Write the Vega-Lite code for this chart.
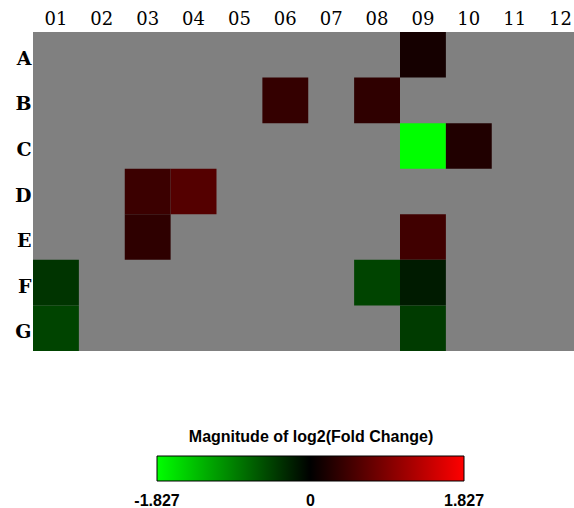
{
  "$schema": "https://vega.github.io/schema/vega-lite/v6.json",
  "autosize": {"type": "none"},
  "padding": {"left": 33, "top": 32, "right": 0, "bottom": 157},
  "width": 550.5,
  "height": 319,
  "background": "white",
  "view": {"fill": "#808080", "stroke": null},
  "data": {
    "values": [
      {"col": "09", "row": "A", "value": 0.15},
      {"col": "06", "row": "B", "value": 0.37},
      {"col": "08", "row": "B", "value": 0.34},
      {"col": "09", "row": "C", "value": -1.827},
      {"col": "10", "row": "C", "value": 0.23},
      {"col": "03", "row": "D", "value": 0.42},
      {"col": "04", "row": "D", "value": 0.6},
      {"col": "03", "row": "E", "value": 0.33},
      {"col": "09", "row": "E", "value": 0.46},
      {"col": "01", "row": "F", "value": -0.37},
      {"col": "08", "row": "F", "value": -0.49},
      {"col": "09", "row": "F", "value": -0.19},
      {"col": "01", "row": "G", "value": -0.49},
      {"col": "09", "row": "G", "value": -0.42}
    ]
  },
  "mark": {"type": "rect"},
  "encoding": {
    "x": {
      "field": "col", "type": "ordinal",
      "scale": {"domain": ["01","02","03","04","05","06","07","08","09","10","11","12"], "paddingInner": 0, "paddingOuter": 0},
      "axis": {"orient": "top", "title": null, "domain": false, "ticks": false, "labelAngle": 0, "labelPadding": 4, "labelFont": "DejaVu Serif", "labelFontSize": 18, "labelColor": "black"}
    },
    "y": {
      "field": "row", "type": "ordinal",
      "scale": {"domain": ["A","B","C","D","E","F","G"], "paddingInner": 0, "paddingOuter": 0},
      "axis": {"title": null, "domain": false, "ticks": false, "labelPadding": 2, "labelFont": "DejaVu Serif", "labelFontSize": 19, "labelFontWeight": "bold", "labelColor": "black", "labelBaseline": "middle", "labelOffset": 4}
    },
    "color": {
      "field": "value", "type": "quantitative",
      "scale": {"domain": [-1.827, 0, 1.827], "range": ["#00ff00", "#000000", "#ff0000"], "interpolate": "rgb"},
      "legend": {
        "title": "Magnitude of log2(Fold Change)",
        "orient": "none",
        "direction": "horizontal",
        "legendX": 124,
        "legendY": 397,
        "gradientLength": 307,
        "gradientThickness": 25,
        "gradientStrokeColor": "black",
        "gradientStrokeWidth": 1,
        "values": [-1.827, 0, 1.827],
        "format": ".3~f",
        "labelExpr": "replace(datum.label, '\u2212', '-')",
        "labelAlign": "center",
        "labelFont": "Liberation Sans",
        "labelFontSize": 16,
        "labelFontWeight": "bold",
        "labelColor": "black",
        "labelOffset": 12,
        "labelOverlap": false,
        "labelLimit": 200,
        "titleFont": "Liberation Sans",
        "titleFontSize": 16,
        "titleFontWeight": "bold",
        "titleColor": "black",
        "titleAnchor": "middle",
        "titleLimit": 500,
        "titlePadding": 11,
        "encode": {"labels": {"update": {"align": {"value": "center"}}}}
      }
    }
  }
}
